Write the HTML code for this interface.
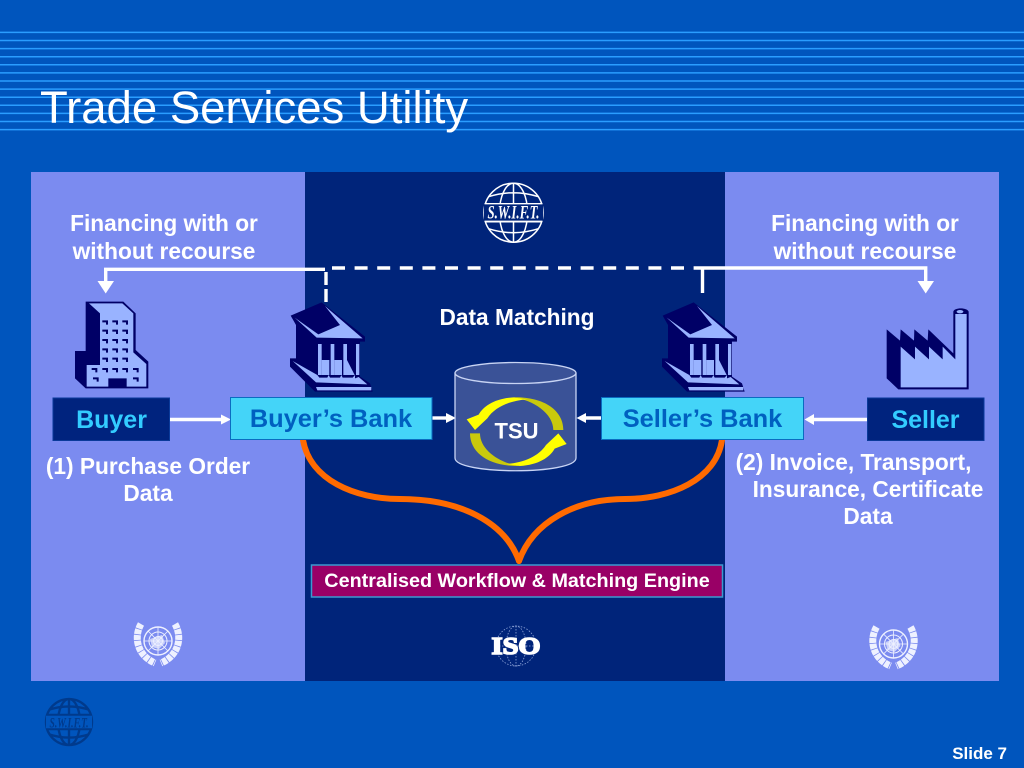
<!DOCTYPE html>
<html><head><meta charset="utf-8"><title>Trade Services Utility</title>
<style>html,body{margin:0;padding:0;background:#0055bd}svg{display:block}text{font-family:"Liberation Sans",sans-serif}</style></head>
<body>
<svg width="1024" height="768" viewBox="0 0 1024 768" xmlns="http://www.w3.org/2000/svg">
<defs>
<g id="bank">
<path d="M32,62 L125,22 L255,125 L255,140 L240,140 L240,245 L270,265 L278,290 L105,290 L30,215 L30,190 L48,190 L48,90 Z" fill="#000066"/>
<path d="M44,68 L110,128 L248,130 L135,33 L180,90 L115,118 Z" fill="#99b3ff"/>
<path d="M114,147h11v93h-11z M152,147h11v93h-11z M190,147h11v93h-11z M228,147h10v93h-10z" fill="#99b3ff"/>
<path d="M125,195 L148,195 L148,240 L125,240 Z M163,195 L186,195 L186,240 L163,240 Z M201,195 L224,240 L201,240 Z" fill="#99b3ff"/>
<path d="M38,198 L108,262 L262,268 L236,246 L225,250 L225,240 L218,248 L188,248 L184,240 L180,248 L150,248 L146,240 L142,248 L118,248 L112,240 Z" fill="#99b3ff"/>
<path d="M108,276 L274,276 L274,286 L112,286 Z" fill="#99b3ff"/>
</g>
<g id="globe" fill="none">
<circle cx="0" cy="0" r="29.5"/>
<ellipse cx="0" cy="0" rx="14" ry="29.5"/>
<path d="M0,-29.5V29.5 M-25,-16 Q0,-24 25,-16 M-25,16 Q0,24 25,16 M-28,-9H28 M-28,9H28"/>
</g>
<g id="un">
<g fill="none" stroke="#eef1ff">
<circle cx="0" cy="-3" r="14" stroke-width="1.4"/>
<circle cx="0" cy="-3" r="9" stroke-width="1"/>
<circle cx="0" cy="-3" r="4.5" stroke-width="1"/>
<path d="M0,-17V11 M-14,-3H14 M-10,-13L10,7 M10,-13L-10,7" stroke-width=".8"/>
<path d="M-17,-20 C-25,-6 -20,12 -3,19" stroke-width="7" stroke-dasharray="5 .8"/>
<path d="M17,-20 C25,-6 20,12 3,19" stroke-width="7" stroke-dasharray="5 .8"/>
</g>
<path d="M-8,-5 L4,-9 L7,-1 L1,5 L-6,3 Z" fill="#eef1ff" opacity=".7"/>
</g>
</defs>

<rect width="1024" height="768" fill="#0055bd"/>
<g stroke="#2a9dff" stroke-width="1.5">
<path d="M0,32.4H1024 M0,40.5H1024 M0,48.6H1024 M0,56.7H1024 M0,64.8H1024 M0,72.9H1024 M0,81H1024 M0,89.1H1024 M0,97.2H1024 M0,105.3H1024 M0,113.4H1024 M0,121.5H1024 M0,129.6H1024"/>
</g>
<text x="40" y="123" font-size="45.5" fill="#fff">Trade Services Utility</text>

<rect x="31" y="172" width="274" height="509" fill="#7b8bf0"/>
<rect x="725" y="172" width="274" height="509" fill="#7b8bf0"/>
<rect x="305" y="172" width="420" height="509" fill="#00247a"/>

<!-- SWIFT globe -->
<g transform="translate(513.5,212.7)" stroke="#fff" stroke-width="1.5"><use href="#globe"/></g>
<rect x="484" y="204" width="59" height="17" fill="#00247a"/>
<path d="M484.5,203.7H542.5 M484.5,221.3H542.5" stroke="#fff" stroke-width="1.4"/>
<text x="513.5" y="218.5" font-size="19" font-weight="bold" font-style="italic" fill="#fff" text-anchor="middle" textLength="52" lengthAdjust="spacingAndGlyphs" style="font-family:'Liberation Serif',serif">S.W.I.F.T.</text>

<!-- Small footer SWIFT -->
<g transform="translate(69,722) scale(.78)" stroke="#003a8c" stroke-width="3"><use href="#globe"/></g>
<rect x="46" y="715" width="46" height="14" fill="#0055bd"/>
<path d="M46,715H92 M46,729H92" stroke="#003a8c" stroke-width="1.6"/>
<text x="69" y="727.5" font-size="15" font-weight="bold" font-style="italic" fill="#003a8c" text-anchor="middle" textLength="39" lengthAdjust="spacingAndGlyphs" style="font-family:'Liberation Serif',serif">S.W.I.F.T.</text>

<!-- Text -->
<g font-size="22.7" font-weight="bold" fill="#fff" text-anchor="middle">
<text x="164" y="231">Financing with or</text>
<text x="164" y="259">without recourse</text>
<text x="865" y="231">Financing with or</text>
<text x="865" y="259">without recourse</text>
<text x="517" y="325">Data Matching</text>
<text x="148" y="474">(1) Purchase Order</text>
<text x="148" y="501">Data</text>
<text x="853.5" y="470">(2) Invoice, Transport,</text>
<text x="868" y="497">Insurance, Certificate</text>
<text x="868" y="524">Data</text>
</g>

<!-- Connectors -->
<g fill="none" stroke="#fff" stroke-width="3.4">
<path d="M325,269.3 H105.7 V282"/>
<path d="M695,268 H925.7 V282"/>
<path d="M702.5,268 V293"/>
<path d="M326,268 H695" stroke-dasharray="13 9.6" stroke-dashoffset="-6"/>
<path d="M326,272 V305" stroke-dasharray="13 4"/>
<path d="M169,419.5 H222"/>
<path d="M432,418 H448"/>
<path d="M601,418 H584"/>
<path d="M867,419.5 H812"/>
</g>
<g fill="#fff">
<path d="M97.5,281 H114 L105.7,293.5 Z"/>
<path d="M917.5,281 H934 L925.7,293.5 Z"/>
<path d="M221,414.5 L231,419.5 L221,424.5 Z"/>
<path d="M446,413 L456,418 L446,423 Z"/>
<path d="M586,413 L576.5,418 L586,423 Z"/>
<path d="M814,414 L804.5,419.5 L814,425 Z"/>
</g>

<!-- Buyer building -->
<g transform="translate(65,295) scale(.3333)">
<path d="M62,20 L175,20 L212,55 L212,165 L250,200 L250,280 L62,280 L30,250 L30,168 L62,168 Z" fill="#000066"/>
<path d="M72,25 L172,25 L205,55 L105,55 Z M105,55 L205,55 L205,172 L244,207 L244,275 L65,275 L65,210 L105,210 Z" fill="#99b3ff"/>
<path d="M130,250h55v28h-55z" fill="#000066"/>
<g fill="none" stroke="#000066" stroke-width="6">
<path d="M112,79h14v10 M142,79h14v10 M172,79h14v10"/>
<path d="M112,107h14v10 M142,107h14v10 M172,107h14v10"/>
<path d="M112,135h14v10 M142,135h14v10 M172,135h14v10"/>
<path d="M112,163h14v10 M142,163h14v10 M172,163h14v10"/>
<path d="M112,191h14v10 M142,191h14v10 M172,191h14v10"/>
<path d="M80,222h14v10 M112,222h14v10 M142,222h14v10 M172,222h14v10 M204,222h14v10"/>
<path d="M84,250h14v10 M204,250h14v10"/>
</g>
</g>

<!-- Banks -->
<g transform="translate(280,295) scale(.3333)"><use href="#bank"/></g>
<g transform="translate(652,295) scale(.3333)"><use href="#bank"/></g>

<!-- Factory -->
<g transform="translate(880,300) scale(.3333)">
<path d="M20,88 L60,122 L62,88 L102,122 L103,88 L143,122 L145,88 L220,160 L220,35 C222,22 262,22 266,35 L266,268 L55,268 L20,235 Z" fill="#000066"/>
<path d="M62,140 L105,178 L105,140 L147,178 L147,140 L188,178 L188,140 L226,178 L226,42 L260,42 L260,262 L62,262 Z" fill="#99b3ff"/>
<ellipse cx="240" cy="35" rx="10" ry="5" fill="#99b3ff"/>
</g>

<!-- Orange curves -->
<g fill="none" stroke="#ff6a00" stroke-width="6" stroke-linecap="round">
<path d="M303,440 C310,480 355,499 400,499 C460,499 505,522 519,561"/>
<path d="M722,440 C716,480 670,499 625,499 C575,499 533,522 519,561"/>
</g>

<!-- Cylinder -->
<path d="M455,373 V458 C455,475 576,475 576,458 V373 Z" fill="#3a5297" stroke="#c8d4f4" stroke-width="1.3"/>
<ellipse cx="515.5" cy="373" rx="60.5" ry="10.5" fill="#3a5297" stroke="#c8d4f4" stroke-width="1.3"/>
<g transform="translate(430,350) scale(.3333)">
<path d="M400,240 C400,180 340,140 250,142 C310,150 370,190 370,240 Z" fill="#c9c90c"/>
<path d="M250,142 C195,145 160,168 146,194 L110,208 L135,240 L172,205 C195,170 240,152 290,148 Z" fill="#ffff00"/>
<path d="M400,240 C400,180 340,140 250,142 C310,150 370,190 370,240 Z" fill="#c9c90c" transform="rotate(180 260 245)"/>
<path d="M250,142 C195,145 160,168 146,194 L110,208 L135,240 L172,205 C195,170 240,152 290,148 Z" fill="#ffff00" transform="rotate(180 260 245)"/>
</g>
<text x="516.5" y="438.5" font-size="22" font-weight="bold" fill="#fff" text-anchor="middle">TSU</text>

<!-- Boxes -->
<rect x="53" y="398" width="116.5" height="42.5" fill="#00237e" stroke="#0a3a9a" stroke-width="1"/>
<text x="111.5" y="428" font-size="25" font-weight="bold" fill="#33ccff" text-anchor="middle">Buyer</text>
<rect x="867.5" y="398" width="116.5" height="42.5" fill="#00237e" stroke="#0a3a9a" stroke-width="1"/>
<text x="925.5" y="428" font-size="25" font-weight="bold" fill="#33ccff" text-anchor="middle">Seller</text>
<rect x="230.5" y="397.5" width="201.5" height="42" fill="#44d4f8" stroke="#0a6cc0" stroke-width="1"/>
<text x="331" y="427" font-size="25.4" font-weight="bold" fill="#0060c0" text-anchor="middle">Buyer’s Bank</text>
<rect x="601.5" y="397.5" width="202" height="42" fill="#44d4f8" stroke="#0a6cc0" stroke-width="1"/>
<text x="702.5" y="427" font-size="25.4" font-weight="bold" fill="#0060c0" text-anchor="middle">Seller’s Bank</text>

<rect x="311.5" y="565" width="411" height="32" fill="#990066" stroke="#3a9ad0" stroke-width="1.5"/>
<text x="517" y="587" font-size="19.8" font-weight="bold" fill="#fff" text-anchor="middle">Centralised Workflow &amp; Matching Engine</text>

<!-- UN emblems -->
<g transform="translate(158,644)"><use href="#un"/></g>
<g transform="translate(893.5,647)"><use href="#un"/></g>

<!-- ISO -->
<g transform="translate(516,646)" fill="none" stroke="#8ea4d8" stroke-width=".8" stroke-dasharray="1.5 1.5">
<circle r="20"/><ellipse rx="10" ry="20"/><path d="M-20,0H20 M0,-20V20"/>
</g>
<text x="516" y="654" font-size="24" font-weight="bold" fill="#fff" stroke="#fff" stroke-width="1.6" text-anchor="middle" textLength="49" lengthAdjust="spacingAndGlyphs" style="font-family:'Liberation Serif',serif">ISO</text>

<text x="1007" y="759" font-size="17" font-weight="bold" fill="#fff" text-anchor="end">Slide 7</text>
</svg>
</body></html>
